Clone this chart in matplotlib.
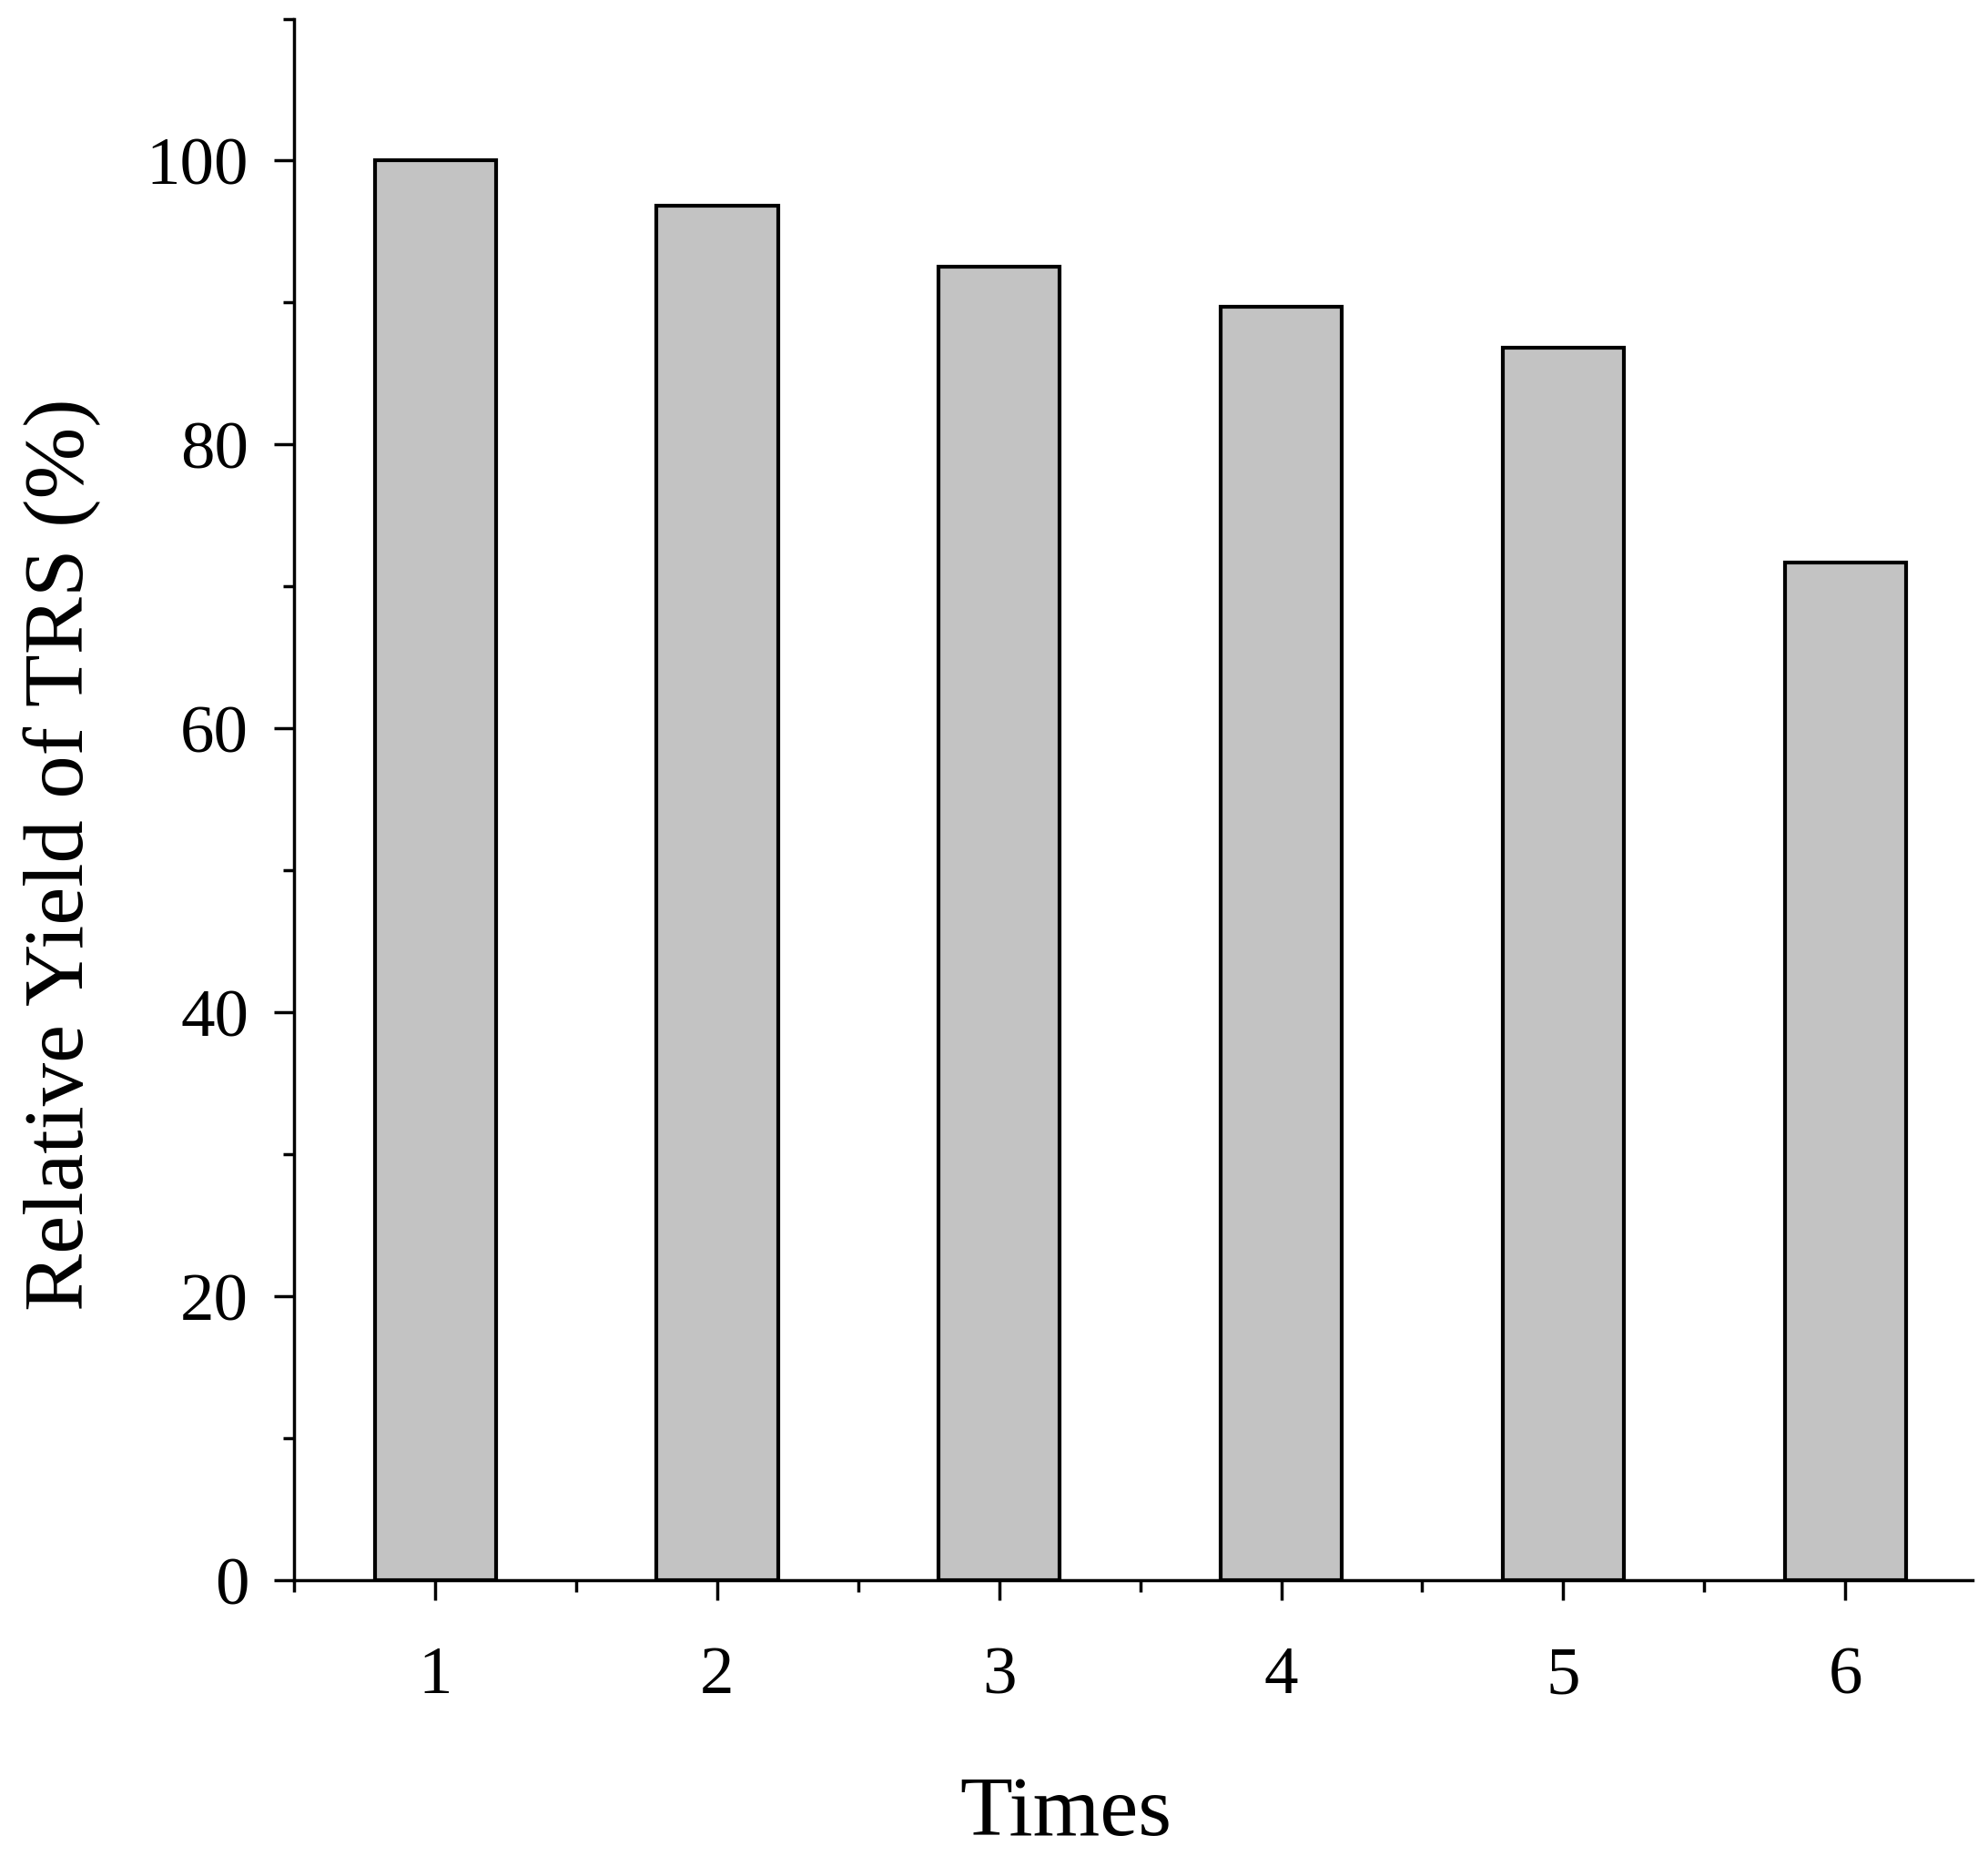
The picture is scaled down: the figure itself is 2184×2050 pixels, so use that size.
import numpy as np
import matplotlib.pyplot as plt
from matplotlib.ticker import MultipleLocator

times = [1, 2, 3, 4, 5, 6]
relative_yield = [100.0, 96.8, 92.5, 89.7, 86.8, 71.7]

plt.rcParams['font.family'] = ['Liberation Serif', 'DejaVu Serif']

fig = plt.figure(figsize=(21.84, 20.5), dpi=100)
ax = fig.add_axes([0.148, 0.153, 0.844, 0.837])

ax.bar(times, relative_yield, width=0.43, color='#c3c3c3',
       edgecolor='black', linewidth=3)

ax.set_xlim(0.5, 6.45)
ax.set_ylim(0, 110)
ax.yaxis.set_major_locator(MultipleLocator(20))
ax.yaxis.set_minor_locator(MultipleLocator(10))
ax.xaxis.set_major_locator(MultipleLocator(1))
ax.xaxis.set_minor_locator(MultipleLocator(0.5))

for side in ['top', 'right']:
    ax.spines[side].set_visible(False)
for side in ['left', 'bottom']:
    ax.spines[side].set_linewidth(2.5)

ax.tick_params(which='major', direction='out', length=16, width=2.5,
               labelsize=54, pad=20)
ax.tick_params(which='minor', direction='out', length=9, width=2.5)
ax.tick_params(axis='x', pad=36)

ax.set_xlabel('Times', fontsize=68)
ax.set_ylabel('Relative Yield of TRS (%)', fontsize=68)
ax.xaxis.set_label_coords(0.46, -0.125)
ax.yaxis.set_label_coords(-0.115, 0.465)

fig.savefig('out.png')
